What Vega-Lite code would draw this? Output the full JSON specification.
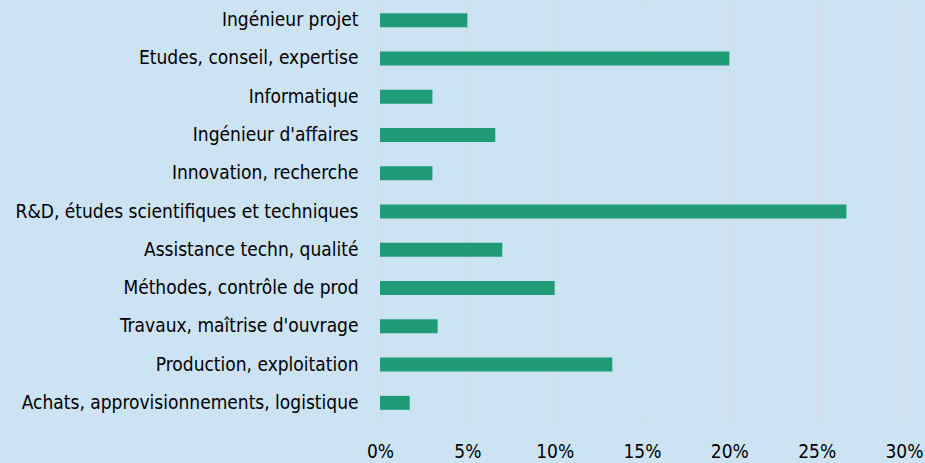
{
  "$schema": "https://vega.github.io/schema/vega-lite/v6.json",
  "autosize": {"type": "none"},
  "padding": {"left": 380, "top": 1, "right": 21, "bottom": 41},
  "width": 524,
  "height": 421,
  "background": "#cce3f4",
  "config": {
    "view": {"stroke": null},
    "font": "DejaVu Sans Condensed",
    "axis": {"labelFont": "DejaVu Sans Condensed", "labelFontSize": 19, "labelColor": "#000000"}
  },
  "data": {
    "values": [
      {"metier": "Ingénieur projet", "pct": 0.05},
      {"metier": "Etudes, conseil, expertise", "pct": 0.20},
      {"metier": "Informatique", "pct": 0.03},
      {"metier": "Ingénieur d'affaires", "pct": 0.066},
      {"metier": "Innovation, recherche", "pct": 0.03},
      {"metier": "R&D, études scientifiques et techniques", "pct": 0.267},
      {"metier": "Assistance techn, qualité", "pct": 0.07},
      {"metier": "Méthodes, contrôle de prod", "pct": 0.10},
      {"metier": "Travaux, maîtrise d'ouvrage", "pct": 0.033},
      {"metier": "Production, exploitation", "pct": 0.133},
      {"metier": "Achats, approvisionnements, logistique", "pct": 0.017}
    ]
  },
  "mark": {"type": "bar", "color": "#1f9b77"},
  "encoding": {
    "y": {
      "field": "metier", "type": "nominal", "sort": null, "title": null,
      "scale": {"paddingInner": 0.634, "paddingOuter": 0.317},
      "axis": {"ticks": false, "domain": false, "labelPadding": 22, "grid": false, "labelLimit": 400}
    },
    "x": {
      "field": "pct", "type": "quantitative", "title": null,
      "scale": {"domain": [0, 0.3], "nice": false},
      "axis": {"format": ".0%", "values": [0, 0.05, 0.1, 0.15, 0.2, 0.25, 0.3], "ticks": false, "domain": false, "grid": true, "gridColor": "#d9d9d9", "gridWidth": 1, "gridOpacity": 1, "labelPadding": 20, "labelFlush": false}
    }
  }
}
